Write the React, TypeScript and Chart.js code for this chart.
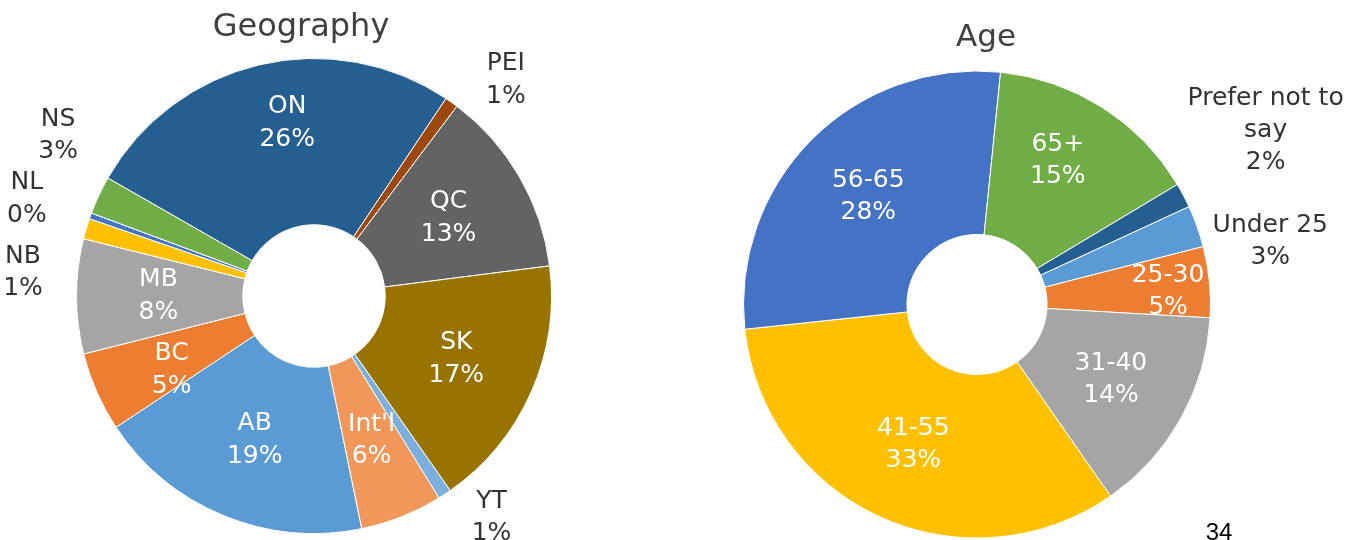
import React, { useEffect, useRef } from 'react';
import { Chart, registerables } from 'chart.js';

Chart.register(...registerables);

// ---- Data ----
const geoCategories = ['AB', 'BC', 'MB', 'NB', 'NL', 'NS', 'ON', 'PEI', 'QC', 'SK', 'YT', "Int'l"];
const geoValues = [18.9, 5.4, 7.8, 1.4, 0.4, 2.6, 26.1, 0.9, 12.7, 17.3, 0.9, 5.6];
const geoColors = ['#5B9BD5', '#ED7D31', '#A5A5A5', '#FFC000', '#4472C4', '#70AD47', '#255E91', '#9E480E', '#636363', '#997300', '#7CAFDD', '#F1975A'];

const ageCategories = ['Under 25', '25-30', '31-40', '41-55', '56-65', '65+', 'Prefer not to say'];
const ageValues = [2.9, 4.9, 14.4, 33.0, 28.3, 14.8, 1.7];
const ageColors = ['#5B9BD5', '#ED7D31', '#A5A5A5', '#FFC000', '#4472C4', '#70AD47', '#255E91'];

const FONT = "'DejaVu Sans', 'Open Sans', sans-serif";

type Override = { da?: number; r?: number; maxWidth?: number };
type LabelCfg = {
  title: string;
  titleX: number;
  titleY: number;
  titleSize: number;
  size: number;
  lineHeight: number;
  r: number;
  overrides: Record<string, Override>;
  extraText?: { text: string; x: number; y: number; font: string };
};

function wrap(ctx: CanvasRenderingContext2D, text: string, maxWidth: number): string[] {
  const words = text.split(' ');
  const lines: string[] = [];
  let cur = '';
  for (const w of words) {
    const test = cur ? cur + ' ' + w : w;
    if (cur && ctx.measureText(test).width > maxWidth) {
      lines.push(cur);
      cur = w;
    } else {
      cur = test;
    }
  }
  if (cur) lines.push(cur);
  return lines;
}

function makeLabelPlugin(cfg: LabelCfg) {
  return {
    id: 'sliceLabels',
    afterDatasetsDraw(chart: any) {
      const ctx: CanvasRenderingContext2D = chart.ctx;
      const meta = chart.getDatasetMeta(0);
      const labels = chart.data.labels as string[];
      const values = chart.data.datasets[0].data as number[];
      ctx.save();
      ctx.font = `${cfg.size}px ${FONT}`;
      ctx.textAlign = 'center';
      ctx.textBaseline = 'middle';
      meta.data.forEach((arc: any, i: number) => {
        const p = arc.getProps(['x', 'y', 'startAngle', 'endAngle', 'outerRadius'], true);
        const name = labels[i];
        const ov = cfg.overrides[name] || {};
        const mid = (p.startAngle + p.endAngle) / 2 + ((ov.da || 0) * Math.PI) / 180;
        const rf = ov.r ?? cfg.r;
        const r = p.outerRadius * rf;
        const cx = p.x + r * Math.cos(mid);
        const cy = p.y + r * Math.sin(mid);
        const lines = wrap(ctx, name, ov.maxWidth || 10000);
        lines.push(Math.round(values[i]) + '%');
        ctx.fillStyle = rf > 1 ? '#333333' : '#ffffff';
        const lh = cfg.lineHeight;
        lines.forEach((t, k) => {
          ctx.fillText(t, cx, cy + (k - (lines.length - 1) / 2) * lh);
        });
      });
      ctx.textBaseline = 'alphabetic';
      ctx.fillStyle = '#404040';
      ctx.font = `${cfg.titleSize}px ${FONT}`;
      ctx.fillText(cfg.title, cfg.titleX, cfg.titleY);
      if (cfg.extraText) {
        ctx.fillStyle = '#000000';
        ctx.font = cfg.extraText.font;
        ctx.fillText(cfg.extraText.text, cfg.extraText.x, cfg.extraText.y);
      }
      ctx.restore();
    },
  };
}

type DonutProps = {
  left: number;
  width: number;
  labels: string[];
  values: number[];
  colors: string[];
  rotation: number;
  radius: number;
  padding: { left: number; right: number; top: number; bottom: number };
  cfg: LabelCfg;
};

function Donut(props: DonutProps) {
  const ref = useRef<HTMLCanvasElement | null>(null);
  useEffect(() => {
    if (!ref.current) return;
    const chart = new Chart(ref.current, {
      type: 'doughnut',
      data: {
        labels: props.labels,
        datasets: [
          {
            data: props.values,
            backgroundColor: props.colors,
            borderColor: '#ffffff',
            borderWidth: 1,
          },
        ],
      },
      options: {
        responsive: false,
        animation: false,
        devicePixelRatio: 1,
        rotation: props.rotation,
        cutout: '30%',
        radius: props.radius,
        layout: { padding: props.padding },
        plugins: {
          legend: { display: false },
          tooltip: { enabled: false },
          title: { display: false },
        },
      } as any,
      plugins: [makeLabelPlugin(props.cfg)],
    });
    return () => chart.destroy();
  }, []);
  return (
    <canvas
      ref={ref}
      width={props.width}
      height={540}
      style={{ position: 'absolute', left: props.left, top: 0, width: props.width, height: 540 }}
    />
  );
}

export default function App() {
  return (
    <div style={{ position: 'fixed', left: 0, top: 0, width: 1363, height: 540, background: '#ffffff', overflow: 'hidden' }}>
      <Donut
        left={0}
        width={681}
        labels={geoCategories}
        values={geoValues}
        colors={geoColors}
        rotation={168.4}
        radius={237.5}
        padding={{ left: 70, right: 123, top: 52, bottom: 0 }}
        cfg={{
          title: 'Geography',
          titleX: 301,
          titleY: 36,
          titleSize: 32,
          size: 25,
          lineHeight: 32.5,
          r: 0.655,
          overrides: {
            ON: { da: 4.4, r: 0.737 },
            PEI: { da: 6.2, r: 1.217 },
            YT: { da: -5.3, r: 1.196 },
            NS: { da: 7, r: 1.272 },
            NL: { da: -1.1, r: 1.276 },
            NB: { da: -11.9, r: 1.229 },
            BC: { da: -3.7, r: 0.676 },
          },
        }}
      />
      <Donut
        left={681}
        width={682}
        labels={ageCategories}
        values={ageValues}
        colors={ageColors}
        rotation={65.2}
        radius={233.5}
        padding={{ left: 61, right: 151, top: 69.5, bottom: 0.5 }}
        cfg={{
          title: 'Age',
          titleX: 305,
          titleY: 46,
          titleSize: 31,
          size: 25,
          lineHeight: 32,
          r: 0.657,
          overrides: {
            '65+': { da: -3.1, r: 0.706 },
            '25-30': { da: 1.6, r: 0.82 },
            'Prefer not to say': { da: -3.2, r: 1.443, maxWidth: 170 },
            'Under 25': { da: 7.4, r: 1.285 },
          },
          extraText: { text: '34', x: 538, y: 540, font: "24px 'Liberation Sans', Arial, sans-serif" },
        }}
      />
    </div>
  );
}
